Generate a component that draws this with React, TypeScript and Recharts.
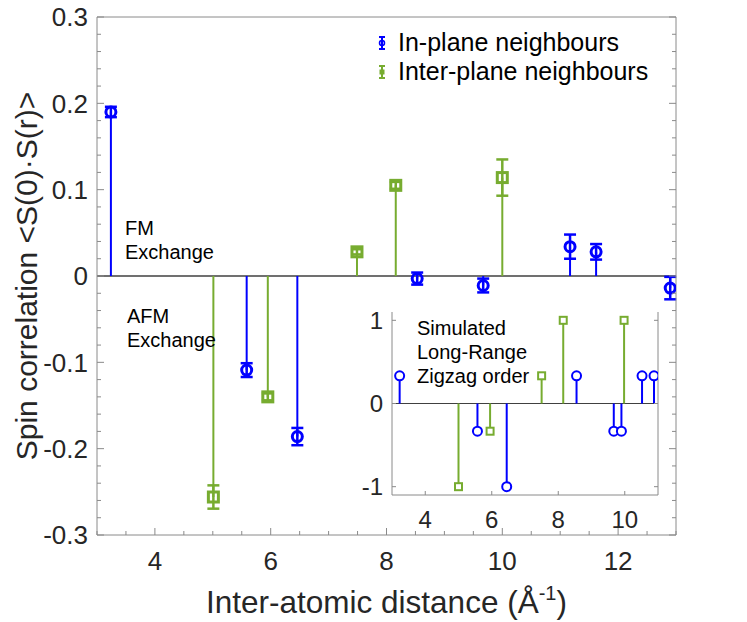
import React from 'react';
import { ComposedChart, Scatter, XAxis, YAxis, ReferenceLine, ErrorBar, Legend } from 'recharts';

// measured spin correlations, in-plane neighbours
const inPlaneR = [3.24, 5.585, 6.46, 8.53, 9.67, 11.17, 11.62, 12.9];
const inPlaneCorr = [0.19, -0.109, -0.186, -0.003, -0.011, 0.034, 0.028, -0.014];
const inPlaneErr = [0.006, 0.008, 0.01, 0.007, 0.008, 0.014, 0.009, 0.013];

// measured spin correlations, inter-plane neighbours
const interPlaneR = [5.01, 5.95, 7.49, 8.16, 10.0];
const interPlaneCorr = [-0.256, -0.14, 0.028, 0.105, 0.114];
const interPlaneErr = [0.0135, 0.004, 0.003, 0.004, 0.021];

// simulated long-range zigzag order (inset)
const simInPlaneR = [3.23, 5.57, 6.45, 8.55, 9.67, 9.9, 10.52, 10.88];
const simInPlaneCorr = [0.333, -0.333, -1, 0.333, -0.333, -0.333, 0.333, 0.333];
const simInterPlaneR = [5.0, 5.95, 7.5, 8.15, 9.98];
const simInterPlaneCorr = [-1, -0.333, 0.333, 1, 1];

const xTicks = [3, 3.5, 4, 4.5, 5, 5.5, 6, 6.5, 7, 7.5, 8, 8.5, 9, 9.5, 10, 10.5, 11, 11.5, 12, 12.5, 13];
const xTickLabels = [4, 6, 8, 10, 12];
const yTicks = [
  -0.3, -0.28, -0.26, -0.24, -0.22, -0.2, -0.18, -0.16, -0.14, -0.12, -0.1, -0.08, -0.06, -0.04, -0.02, 0,
  0.02, 0.04, 0.06, 0.08, 0.1, 0.12, 0.14, 0.16, 0.18, 0.2, 0.22, 0.24, 0.26, 0.28, 0.3,
];
const yTickLabels = [-0.3, -0.2, -0.1, 0, 0.1, 0.2, 0.3];
const insetXTicks = [4, 6, 8, 10];
const insetYTicks = [-1, 0, 1];

const BLUE = '#0000ff';
const GREEN = '#77ac30';
const AXIS = '#8a8a8a';
const TEXT = '#262626';
const FONT = '"Liberation Sans", Arial, Helvetica, sans-serif';

const inPlane = inPlaneR.map((r, i) => ({ r, corr: inPlaneCorr[i], err: inPlaneErr[i] }));
const interPlane = interPlaneR.map((r, i) => ({ r, corr: interPlaneCorr[i], err: interPlaneErr[i] }));
const simInPlane = simInPlaneR.map((r, i) => ({ r, corr: simInPlaneCorr[i] }));
const simInterPlane = simInterPlaneR.map((r, i) => ({ r, corr: simInterPlaneCorr[i] }));

const isLabel = (list: number[], v: number) => list.some((t) => Math.abs(t - v) < 1e-9);

// tick marks point into the plot, labels only on major ticks
const BottomTick = ({ x, y, payload }: any) => {
  const major = isLabel(xTickLabels, payload.value);
  return (
    <g>
      <line x1={x} x2={x} y1={y} y2={y - (major ? 7 : 4)} stroke={AXIS} />
      {major && (
        <text x={x} y={y + 35} textAnchor="middle" fontSize={26} fill={TEXT}>
          {payload.value}
        </text>
      )}
    </g>
  );
};
const TopTick = ({ x, y, payload }: any) => {
  const major = isLabel(xTickLabels, payload.value);
  return <line x1={x} x2={x} y1={y} y2={y + (major ? 7 : 4)} stroke={AXIS} />;
};
const LeftTick = ({ x, y, payload }: any) => {
  const major = isLabel(yTickLabels, payload.value);
  return (
    <g>
      <line x1={x} x2={x + (major ? 7 : 4)} y1={y} y2={y} stroke={AXIS} />
      {major && (
        <text x={x - 9} y={y} dy="0.36em" textAnchor="end" fontSize={26} fill={TEXT}>
          {payload.value}
        </text>
      )}
    </g>
  );
};
const RightTick = ({ x, y, payload }: any) => {
  const major = isLabel(yTickLabels, payload.value);
  return <line x1={x} x2={x - (major ? 7 : 4)} y1={y} y2={y} stroke={AXIS} />;
};

const InsetBottomTick = ({ x, y, payload }: any) => (
  <g>
    <line x1={x} x2={x} y1={y} y2={y - 4} stroke={AXIS} />
    <text x={x} y={y + 33} textAnchor="middle" fontSize={24} fill={TEXT}>
      {payload.value}
    </text>
  </g>
);
const InsetLeftTick = ({ x, y, payload }: any) => (
  <g>
    <line x1={x} x2={x + 4} y1={y} y2={y} stroke={AXIS} />
    <text x={x - 9} y={y} dy="0.36em" textAnchor="end" fontSize={24} fill={TEXT}>
      {payload.value}
    </text>
  </g>
);
const InsetRightTick = ({ x, y }: any) => <line x1={x} x2={x - 4} y1={y} y2={y} stroke={AXIS} />;

const XTitle = ({ viewBox }: any) => (
  <text x={viewBox.x + viewBox.width / 2} y={viewBox.y + 78} textAnchor="middle" fontSize={31.5} fill={TEXT}>
    Inter-atomic distance (Å
    <tspan dy={-13} fontSize={20}>-1</tspan>
    <tspan dy={13}>)</tspan>
  </text>
);
const YTitle = ({ viewBox }: any) => {
  const cx = viewBox.x + 37;
  const cy = viewBox.y + viewBox.height / 2;
  return (
    <text x={cx} y={cy} transform={`rotate(-90 ${cx} ${cy})`} textAnchor="middle" fontSize={30} fill={TEXT}>
      Spin correlation &lt;S(0)·S(r)&gt;
    </text>
  );
};

const seriesMarkers: Record<string, 'circle' | 'square'> = {
  'In-plane neighbours': 'circle',
  'Inter-plane neighbours': 'square',
};

const SeriesLegend = ({ payload }: any) => (
  <div style={{ fontFamily: FONT, fontSize: 25, color: '#000', lineHeight: '29px' }}>
    {(payload || []).map((entry: any) => (
      <div key={entry.value} style={{ display: 'flex', alignItems: 'center' }}>
        <svg width={14} height={14} style={{ marginRight: 9 }}>
          <line x1={7} x2={7} y1={1} y2={13} stroke={entry.color} strokeWidth={2} />
          <line x1={4} x2={10} y1={1} y2={1} stroke={entry.color} strokeWidth={2} />
          <line x1={4} x2={10} y1={13} y2={13} stroke={entry.color} strokeWidth={2} />
          {seriesMarkers[entry.value] === 'circle' ? (
            <circle cx={7} cy={7} r={2.5} fill="none" stroke={entry.color} strokeWidth={1.5} />
          ) : (
            <rect x={4.5} y={4.5} width={5} height={5} fill={entry.color} />
          )}
        </svg>
        <span>{entry.value}</span>
      </div>
    ))}
  </div>
);

const MainChart = () => (
  <ComposedChart width={747} height={622} margin={{ top: 16, right: 70, bottom: 0, left: 0 }}>
    <XAxis
      type="number"
      dataKey="r"
      domain={[3, 13]}
      ticks={xTicks}
      interval={0}
      allowDataOverflow
      height={87}
      tickSize={0}
      tickMargin={0}
      tickLine={false}
      tick={<BottomTick />}
      axisLine={{ stroke: AXIS }}
      label={<XTitle />}
    />
    <XAxis
      xAxisId="top"
      orientation="top"
      type="number"
      domain={[3, 13]}
      ticks={xTicks}
      interval={0}
      allowDataOverflow
      height={1}
      tickSize={0}
      tickMargin={0}
      tickLine={false}
      tick={<TopTick />}
      axisLine={{ stroke: AXIS }}
    />
    <YAxis
      type="number"
      dataKey="corr"
      domain={[-0.3, 0.3]}
      ticks={yTicks}
      interval={0}
      allowDataOverflow
      width={97}
      tickSize={0}
      tickMargin={0}
      tickLine={false}
      tick={<LeftTick />}
      axisLine={{ stroke: AXIS }}
      label={<YTitle />}
    />
    <YAxis
      yAxisId="right"
      orientation="right"
      type="number"
      domain={[-0.3, 0.3]}
      ticks={yTicks}
      interval={0}
      allowDataOverflow
      width={1}
      tickSize={0}
      tickMargin={0}
      tickLine={false}
      tick={<RightTick />}
      axisLine={{ stroke: AXIS }}
    />
    <ReferenceLine y={0} stroke="#404040" strokeWidth={1.5} />
    {inPlane.map((d) => (
      <ReferenceLine key={`ip${d.r}`} segment={[{ x: d.r, y: 0 }, { x: d.r, y: d.corr }]} stroke={BLUE} strokeWidth={2} />
    ))}
    {interPlane.map((d) => (
      <ReferenceLine key={`xp${d.r}`} segment={[{ x: d.r, y: 0 }, { x: d.r, y: d.corr }]} stroke={GREEN} strokeWidth={2} />
    ))}
    <Scatter
      name="In-plane neighbours"
      data={inPlane}
      fill={BLUE}
      isAnimationActive={false}
      shape={(p: any) => <circle cx={p.cx} cy={p.cy} r={5} fill="none" stroke={BLUE} strokeWidth={3} />}
    >
      <ErrorBar dataKey="err" direction="y" width={6} stroke={BLUE} strokeWidth={2.5} isAnimationActive={false} />
    </Scatter>
    <Scatter
      name="Inter-plane neighbours"
      data={interPlane}
      fill={GREEN}
      isAnimationActive={false}
      shape={(p: any) => (
        <rect x={p.cx - 5} y={p.cy - 5} width={10} height={10} fill="none" stroke={GREEN} strokeWidth={3} />
      )}
    >
      <ErrorBar dataKey="err" direction="y" width={6} stroke={GREEN} strokeWidth={2.5} isAnimationActive={false} />
    </Scatter>
    <Legend
      layout="vertical"
      align="center"
      verticalAlign="middle"
      content={<SeriesLegend />}
      wrapperStyle={{ left: 375, top: 28, width: 'auto' }}
    />
  </ComposedChart>
);

const InsetChart = () => (
  <ComposedChart width={330} height={240} margin={{ top: 12, right: 11, bottom: 0, left: 0 }}>
    <XAxis
      type="number"
      dataKey="r"
      domain={[3, 11]}
      ticks={insetXTicks}
      interval={0}
      allowDataOverflow
      height={45}
      tickSize={0}
      tickMargin={0}
      tickLine={false}
      tick={<InsetBottomTick />}
      axisLine={{ stroke: AXIS }}
    />
    <XAxis
      xAxisId="top"
      orientation="top"
      type="number"
      domain={[3, 11]}
      ticks={insetXTicks}
      allowDataOverflow
      height={0}
      tick={false}
      tickLine={false}
      axisLine={{ stroke: AXIS }}
    />
    <YAxis
      type="number"
      dataKey="corr"
      domain={[-1.1, 1.1]}
      ticks={insetYTicks}
      interval={0}
      allowDataOverflow
      width={52}
      tickSize={0}
      tickMargin={0}
      tickLine={false}
      tick={<InsetLeftTick />}
      axisLine={{ stroke: AXIS }}
    />
    <YAxis
      yAxisId="right"
      orientation="right"
      type="number"
      domain={[-1.1, 1.1]}
      ticks={insetYTicks}
      interval={0}
      allowDataOverflow
      width={1}
      tickSize={0}
      tickMargin={0}
      tickLine={false}
      tick={<InsetRightTick />}
      axisLine={{ stroke: AXIS }}
    />
    <ReferenceLine y={0} stroke="#404040" strokeWidth={1} />
    {simInPlane.map((d) => (
      <ReferenceLine key={`sip${d.r}`} segment={[{ x: d.r, y: 0 }, { x: d.r, y: d.corr }]} stroke={BLUE} strokeWidth={2} />
    ))}
    {simInterPlane.map((d) => (
      <ReferenceLine key={`sxp${d.r}`} segment={[{ x: d.r, y: 0 }, { x: d.r, y: d.corr }]} stroke={GREEN} strokeWidth={2} />
    ))}
    <Scatter
      data={simInPlane}
      fill={BLUE}
      isAnimationActive={false}
      shape={(p: any) => <circle cx={p.cx} cy={p.cy} r={4.5} fill="#fff" stroke={BLUE} strokeWidth={2} />}
    />
    <Scatter
      data={simInterPlane}
      fill={GREEN}
      isAnimationActive={false}
      shape={(p: any) => (
        <rect x={p.cx - 3.5} y={p.cy - 3.5} width={7} height={7} fill="#fff" stroke={GREEN} strokeWidth={2} />
      )}
    />
  </ComposedChart>
);

const note: React.CSSProperties = {
  position: 'absolute',
  fontFamily: FONT,
  fontSize: 20,
  lineHeight: '24px',
  color: '#000',
  whiteSpace: 'nowrap',
};

export default function App() {
  return (
    <div style={{ position: 'absolute', left: 0, top: 0, width: 747, height: 622, fontFamily: FONT, background: '#fff' }}>
      <MainChart />
      <div style={{ position: 'absolute', left: 340, top: 300 }}>
        <InsetChart />
      </div>
      <div style={{ ...note, left: 125, top: 216 }}>
        FM
        <br />
        Exchange
      </div>
      <div style={{ ...note, left: 127, top: 304 }}>
        AFM
        <br />
        Exchange
      </div>
      <div style={{ ...note, left: 417, top: 316 }}>
        Simulated
        <br />
        Long-Range
        <br />
        Zigzag order
      </div>
    </div>
  );
}
